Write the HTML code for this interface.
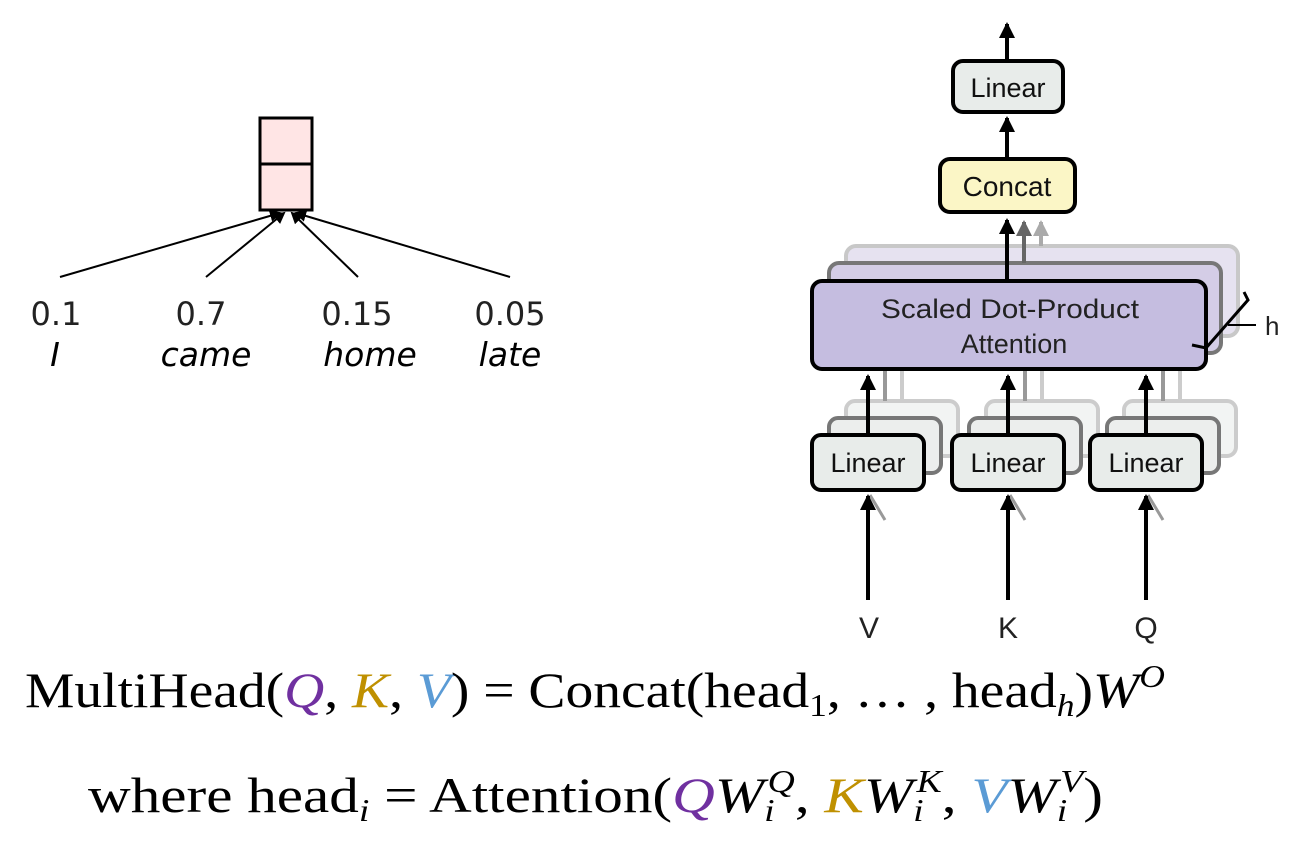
<!DOCTYPE html>
<html><head><meta charset="utf-8"><style>
html,body{margin:0;padding:0;background:#fff;}
svg{display:block;}
</style></head><body>
<svg width="1292" height="845" viewBox="0 0 1292 845" xmlns="http://www.w3.org/2000/svg">
<defs>
<marker id="ah" markerWidth="6" markerHeight="6" refX="5" refY="3" orient="auto" markerUnits="strokeWidth"><path d="M0,0 L6,3 L0,6 z" fill="#000"/></marker>
<marker id="a2" markerWidth="4" markerHeight="4" refX="3.5" refY="2" orient="auto" markerUnits="strokeWidth"><path d="M0,0 L4,2 L0,4 z" fill="#000"/></marker>
<marker id="a2g" markerWidth="4" markerHeight="4" refX="3.5" refY="2" orient="auto" markerUnits="strokeWidth"><path d="M0,0 L4,2 L0,4 z" fill="#666"/></marker>
<marker id="a2l" markerWidth="4" markerHeight="4" refX="3.5" refY="2" orient="auto" markerUnits="strokeWidth"><path d="M0,0 L4,2 L0,4 z" fill="#aaa"/></marker>
</defs>
<!-- left diagram -->
<rect x="260" y="118" width="52" height="92" fill="#ffe5e5" stroke="#000" stroke-width="3"/>
<line x1="260" y1="164" x2="312" y2="164" stroke="#000" stroke-width="3"/>
<g stroke="#000" stroke-width="2" fill="none">
<line x1="60" y1="277" x2="280" y2="213" marker-end="url(#ah)"/>
<line x1="206" y1="277" x2="284" y2="213" marker-end="url(#ah)"/>
<line x1="358" y1="277" x2="292" y2="213" marker-end="url(#ah)"/>
<line x1="510" y1="277" x2="296" y2="213" marker-end="url(#ah)"/>
</g>
<g font-family="DejaVu Sans, Liberation Sans, sans-serif" font-size="32" fill="#222" text-anchor="middle">
<text x="56" y="325">0.1</text>
<text x="201" y="325">0.7</text>
<text x="357" y="325">0.15</text>
<text x="510" y="325">0.05</text>
</g>
<g font-family="DejaVu Sans, Liberation Sans, sans-serif" font-size="33" font-style="italic" fill="#000" text-anchor="middle">
<text x="55" y="366">I</text>
<text x="206" y="366">came</text>
<text x="370" y="366">home</text>
<text x="510" y="366">late</text>
</g>
<!-- right diagram -->
<g stroke="#000" stroke-width="4" fill="none">
<line x1="1007" y1="60" x2="1007" y2="24" marker-end="url(#a2)"/>
<line x1="1007" y1="158" x2="1007" y2="118" marker-end="url(#a2)"/>
</g>
<rect x="953" y="61" width="110" height="51" rx="10" fill="#e8ecea" stroke="#000" stroke-width="4"/>
<text x="1008" y="97" font-family="Liberation Sans, sans-serif" font-size="27" text-anchor="middle" fill="#111">Linear</text>
<rect x="940" y="159" width="135" height="53" rx="10" fill="#fbf6c6" stroke="#000" stroke-width="4"/>
<text x="1007" y="196" font-family="Liberation Sans, sans-serif" font-size="28" text-anchor="middle" fill="#111">Concat</text>
<!-- stacked attention -->
<rect x="846" y="246" width="392" height="90" rx="10" fill="#e6e2f0" stroke="#c8c8c8" stroke-width="4"/>
<rect x="829" y="263" width="392" height="90" rx="10" fill="#d4cde6" stroke="#777" stroke-width="4"/>
<line x1="1041" y1="246" x2="1041" y2="222" stroke="#aaa" stroke-width="4" marker-end="url(#a2l)"/>
<line x1="1024" y1="263" x2="1024" y2="222" stroke="#666" stroke-width="4" marker-end="url(#a2g)"/>
<line x1="1007" y1="281" x2="1007" y2="220" stroke="#000" stroke-width="4" marker-end="url(#a2)"/>
<rect x="812" y="281" width="394" height="88" rx="10" fill="#c5bde0" stroke="#000" stroke-width="4"/>
<text x="1010" y="318" font-family="Liberation Sans, sans-serif" font-size="27" text-anchor="middle" fill="#222" textLength="258" lengthAdjust="spacingAndGlyphs">Scaled Dot-Product</text>
<text x="1014" y="353" font-family="Liberation Sans, sans-serif" font-size="27" text-anchor="middle" fill="#222">Attention</text>
<path d="M1244 292 L1248 300 L1206 348 L1192 345" stroke="#000" stroke-width="3" fill="none"/>
<line x1="1228" y1="325" x2="1256" y2="325" stroke="#000" stroke-width="2"/>
<text x="1265" y="335" font-family="Liberation Sans, sans-serif" font-size="26" fill="#222">h</text>
<!-- linear stacks -->
<g id="ls">
<rect x="846" y="401" width="112" height="55" rx="9" fill="#f2f4f3" stroke="#ccc" stroke-width="4"/>
<rect x="829" y="418" width="112" height="55" rx="9" fill="#eceeed" stroke="#777" stroke-width="4"/>
<line x1="885" y1="401" x2="885" y2="371" stroke="#999" stroke-width="4"/>
<line x1="902" y1="401" x2="902" y2="371" stroke="#ccc" stroke-width="4"/>
<line x1="868" y1="434" x2="868" y2="376" stroke="#000" stroke-width="4" marker-end="url(#a2)"/>
<rect x="812" y="435" width="112" height="55" rx="9" fill="#e8ecea" stroke="#000" stroke-width="4"/>
<text x="868" y="472" font-family="Liberation Sans, sans-serif" font-size="27" text-anchor="middle" fill="#111">Linear</text>
<line x1="885" y1="520" x2="870" y2="495" stroke="#999" stroke-width="3"/>
<line x1="868" y1="600" x2="868" y2="496" stroke="#000" stroke-width="4" marker-end="url(#a2)"/>
</g>
<use href="#ls" x="140"/>
<use href="#ls" x="278"/>
<g font-family="Liberation Sans, sans-serif" font-size="30" fill="#222" text-anchor="middle">
<text x="869" y="638">V</text>
<text x="1008" y="638">K</text>
<text x="1146" y="638">Q</text>
</g>
<!-- equations -->
<g font-family="Liberation Serif, DejaVu Serif, serif" font-size="50" fill="#000">
<text x="25" y="707" textLength="1140" lengthAdjust="spacingAndGlyphs">MultiHead(<tspan fill="#7030a0" font-style="italic">Q</tspan>, <tspan fill="#bf9000" font-style="italic">K</tspan>, <tspan fill="#5b9bd5" font-style="italic">V</tspan>) = Concat(head<tspan font-size="32" dy="9">1</tspan><tspan dy="-9">, … , head</tspan><tspan font-size="32" dy="9" font-style="italic">h</tspan><tspan dy="-9">)</tspan><tspan font-style="italic">W</tspan><tspan font-size="32" dy="-20" font-style="italic">O</tspan></text>
<text x="88" y="812" textLength="1015" lengthAdjust="spacingAndGlyphs">where head<tspan font-size="32" dy="9" font-style="italic">i</tspan><tspan dy="-9"> = Attention(</tspan><tspan fill="#7030a0" font-style="italic">Q</tspan><tspan font-style="italic">W</tspan><tspan font-size="32" font-style="italic" dy="9">i</tspan><tspan font-size="32" font-style="italic" dx="-6" dy="-29">Q</tspan><tspan dy="20">, </tspan><tspan fill="#bf9000" font-style="italic">K</tspan><tspan font-style="italic">W</tspan><tspan font-size="32" font-style="italic" dy="9">i</tspan><tspan font-size="32" font-style="italic" dx="-6" dy="-29">K</tspan><tspan dy="20">, </tspan><tspan fill="#5b9bd5" font-style="italic">V</tspan><tspan font-style="italic">W</tspan><tspan font-size="32" font-style="italic" dy="9">i</tspan><tspan font-size="32" font-style="italic" dx="-6" dy="-29">V</tspan><tspan dy="20">)</tspan></text>
</g>
</svg>
</body></html>
